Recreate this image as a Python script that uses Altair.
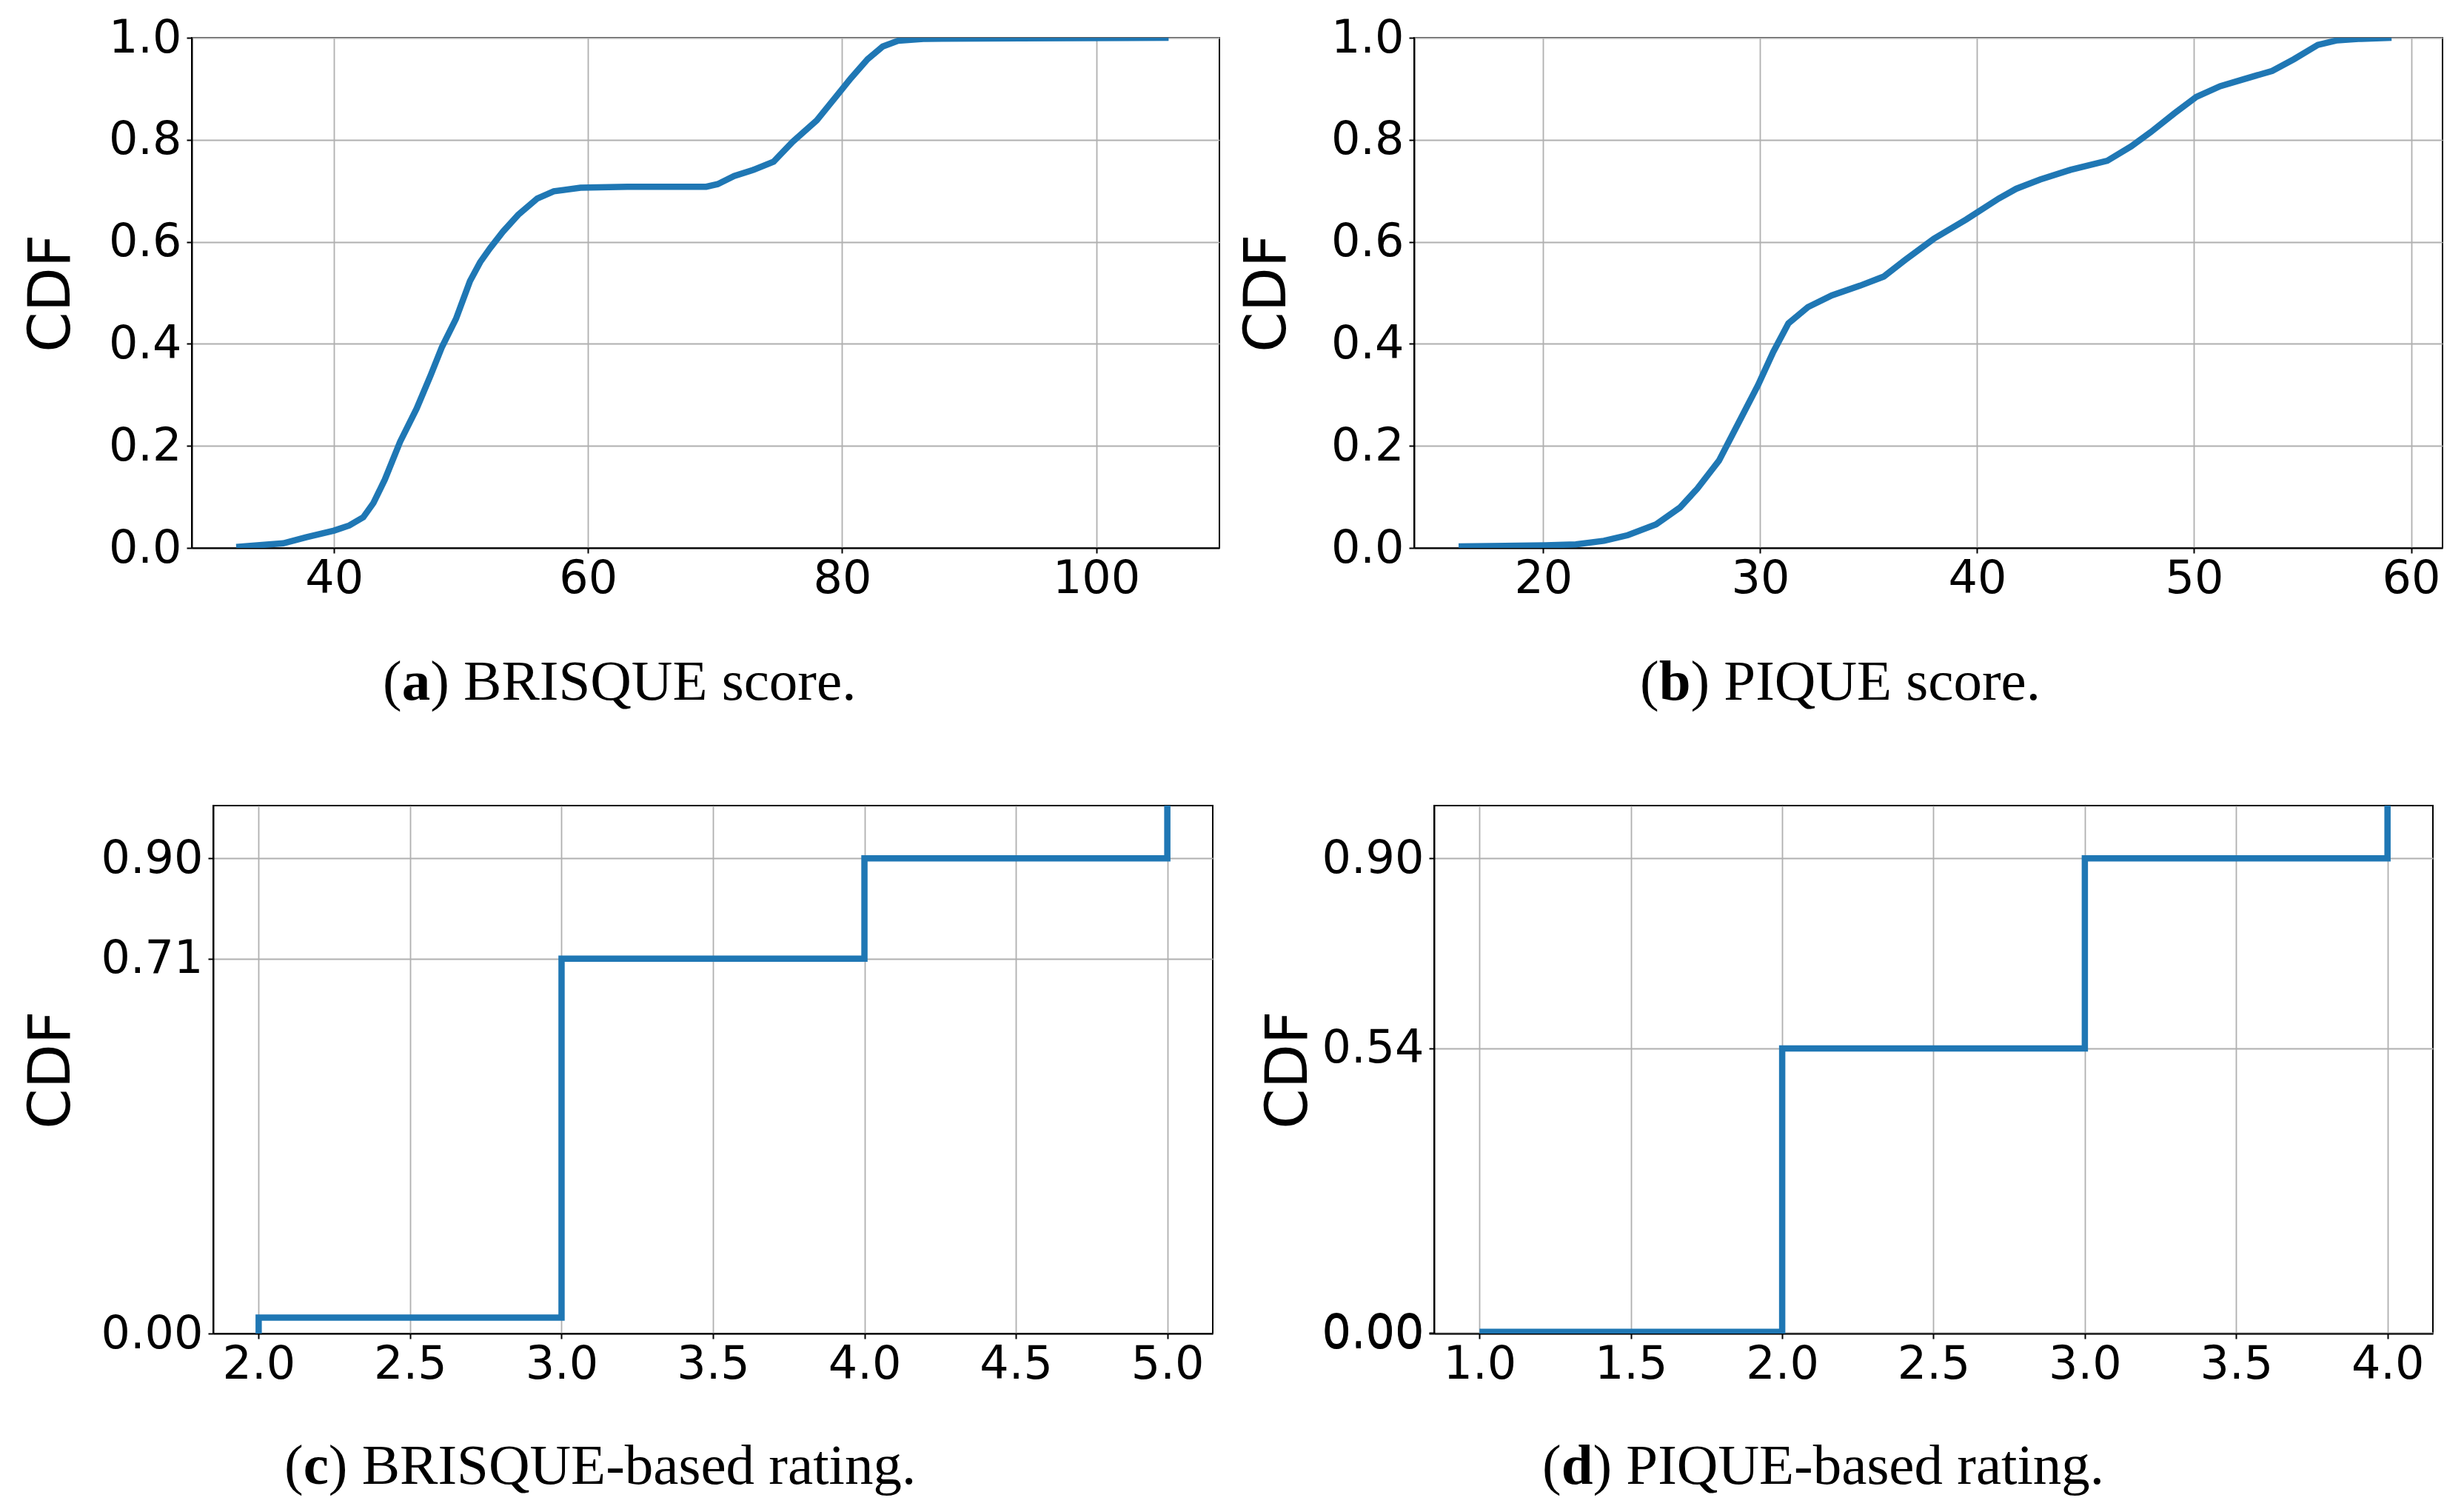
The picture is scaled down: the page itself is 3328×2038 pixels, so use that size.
import altair as alt
import pandas as pd

# ---- data ----
brisque_x = [32.3, 36.0, 37.8, 40.0, 41.2, 42.3, 43.1, 44.0, 45.2, 46.5, 47.6, 48.5, 49.6,
             50.7, 51.5, 52.3, 53.3, 54.5, 56.0, 57.3, 59.4, 63.1, 69.3, 70.2, 71.5, 73.0,
             74.6, 76.1, 78.0, 79.5, 80.7, 82.0, 83.2, 84.4, 86.6, 94.0, 105.7]
brisque_y = [0.002, 0.009, 0.021, 0.034, 0.044, 0.060, 0.088, 0.134, 0.208, 0.273, 0.338,
             0.394, 0.449, 0.523, 0.560, 0.588, 0.620, 0.653, 0.685, 0.699, 0.706, 0.708,
             0.708, 0.713, 0.729, 0.741, 0.757, 0.796, 0.838, 0.884, 0.921, 0.958, 0.983,
             0.994, 0.998, 0.999, 1.0]

pique_x = [16.1, 20.1, 21.5, 22.8, 23.9, 25.2, 26.3, 27.1, 28.1, 29.0, 29.9, 30.6, 31.3,
           32.2, 33.3, 34.6, 35.7, 36.7, 38.0, 39.5, 41.0, 41.8, 42.9, 44.3, 46.0, 47.1,
           48.0, 49.1, 50.1, 51.2, 52.3, 53.6, 54.6, 55.7, 56.6, 57.7, 59.1]
pique_y = [0.003, 0.005, 0.007, 0.014, 0.025, 0.046, 0.079, 0.116, 0.171, 0.245, 0.319,
           0.384, 0.440, 0.472, 0.495, 0.514, 0.532, 0.565, 0.606, 0.644, 0.685, 0.704,
           0.722, 0.741, 0.759, 0.787, 0.815, 0.852, 0.884, 0.905, 0.919, 0.935, 0.958,
           0.986, 0.995, 0.998, 1.0]

brisque_rating_x = [2.0, 2.0, 3.0, 4.0, 5.0]
brisque_rating_y = [0.0, 0.03, 0.71, 0.90, 1.0]
pique_rating_x = [1.0, 1.0, 2.0, 3.0, 4.0]
pique_rating_y = [0.003, 0.003, 0.54, 0.90, 1.0]

ticks_a_x = [40, 60, 80, 100]
ticks_b_x = [20, 30, 40, 50, 60]
ticks_c_x = [2.0, 2.5, 3.0, 3.5, 4.0, 4.5, 5.0]
ticks_d_x = [1.0, 1.5, 2.0, 2.5, 3.0, 3.5, 4.0]
ticks_score_y = [0.0, 0.2, 0.4, 0.6, 0.8, 1.0]
ticks_c_y = [0.0, 0.71, 0.90]
ticks_d_y = [0.0, 0.002, 0.54, 0.90]

captions = [("a", ") BRISQUE score."), ("b", ") PIQUE score."),
            ("c", ") BRISQUE-based rating."), ("d", ") PIQUE-based rating.")]

BLUE = "#1f77b4"
LABEL_FONT = "DejaVu Sans"
LABEL_SIZE = 62
TITLE_SIZE = 78
CAP_FONT = "Liberation Serif"
CAP_SIZE = 77
BOLD_W = {"a": 0.5, "b": 0.556, "c": 0.444, "d": 0.556}


def axis(values, fmt, title=None, title_pad=32):
    kw = dict(values=values, format=fmt, grid=True, gridColor="#b0b0b0", gridWidth=1.8,
              domainColor="black", domainWidth=2, tickColor="black", tickWidth=2, tickSize=7,
              labelFont=LABEL_FONT, labelFontSize=LABEL_SIZE, labelColor="black",
              labelOverlap=False, labelFlush=False)
    if title is not None:
        kw.update(title=title, titleFont=LABEL_FONT, titleFontSize=TITLE_SIZE,
                  titleFontWeight="normal", titleColor="black", titlePadding=title_pad,
                  labelPadding=7)
    else:
        kw.update(title=None, labelPadding=4)
    return alt.Axis(**kw)


def caption(idx, left, base):
    letter, rest = captions[idx]
    wp = 0.333 * CAP_SIZE
    wl = BOLD_W[letter] * CAP_SIZE
    parts = [("(", left, "normal"), (letter, left + wp, "bold"), (rest, left + wp + wl, "normal")]
    layers = []
    for txt, x0, wt in parts:
        layers.append(
            alt.Chart(pd.DataFrame({"t": [txt]}))
            .mark_text(align="left", baseline="alphabetic", font=CAP_FONT, fontSize=CAP_SIZE,
                       fontWeight=wt, color="black")
            .encode(text="t:N", x=alt.value(x0), y=alt.value(base))
        )
    return layers


def panel(xs, ys, xdom, xticks, xfmt, yticks, yfmt, w, h, cap_idx, cap_left, cap_base,
          title_pad, step=False):
    df = pd.DataFrame({"x": xs, "y": ys, "idx": list(range(len(xs)))})
    mk = dict(color=BLUE, strokeWidth=8.5, clip=True)
    if step:
        mk["interpolate"] = "step-after"
    line = alt.Chart(df).mark_line(**mk).encode(
        x=alt.X("x:Q", scale=alt.Scale(domain=xdom, nice=False, zero=False),
                axis=axis(xticks, xfmt)),
        y=alt.Y("y:Q", scale=alt.Scale(domain=[0, 1], nice=False),
                axis=axis(yticks, yfmt, "CDF", title_pad)),
        order=alt.Order("idx:Q"),
    )
    return alt.layer(line, *caption(cap_idx, cap_left, cap_base)).properties(width=w, height=h)


def spacer():
    return (alt.Chart(pd.DataFrame({"t": [""]}))
            .mark_text(fontSize=1, opacity=0)
            .encode(text="t:N", x=alt.value(0), y=alt.value(0))
            .properties(width=1, height=1,
                        view=alt.ViewBackground(stroke="transparent", fill="transparent")))


pa = panel(brisque_x, brisque_y, [28.8, 109.7], ticks_a_x, "d", ticks_score_y, ".1f",
           1388, 689, 0, 258, 894, 37)
pb = panel(pique_x, pique_y, [14.05, 61.45], ticks_b_x, "d", ticks_score_y, ".1f",
           1389, 689, 1, 305, 894, 46)
pc = panel(brisque_rating_x, brisque_rating_y, [1.85, 5.15], ticks_c_x, ".1f", ticks_c_y, ".2f",
           1350, 713, 2, 96, 916, 26, step=True)
pd_ = panel(pique_rating_x, pique_rating_y, [0.85, 4.15], ticks_d_x, ".1f", ticks_d_y, ".2f",
            1349, 713, 3, 146, 916, 4, step=True)

chart = alt.concat(
    spacer(), pa, pb, spacer(), pc, pd_,
    columns=3,
    spacing={"row": 103, "column": 24},
    align={"row": "all", "column": "none"},
).properties(
    padding={"left": -5, "top": 11, "right": 0, "bottom": 0},
    background="white",
).configure_view(stroke="black", strokeWidth=2)

chart.save("out.html", embed_options={"renderer": "svg", "actions": False})
